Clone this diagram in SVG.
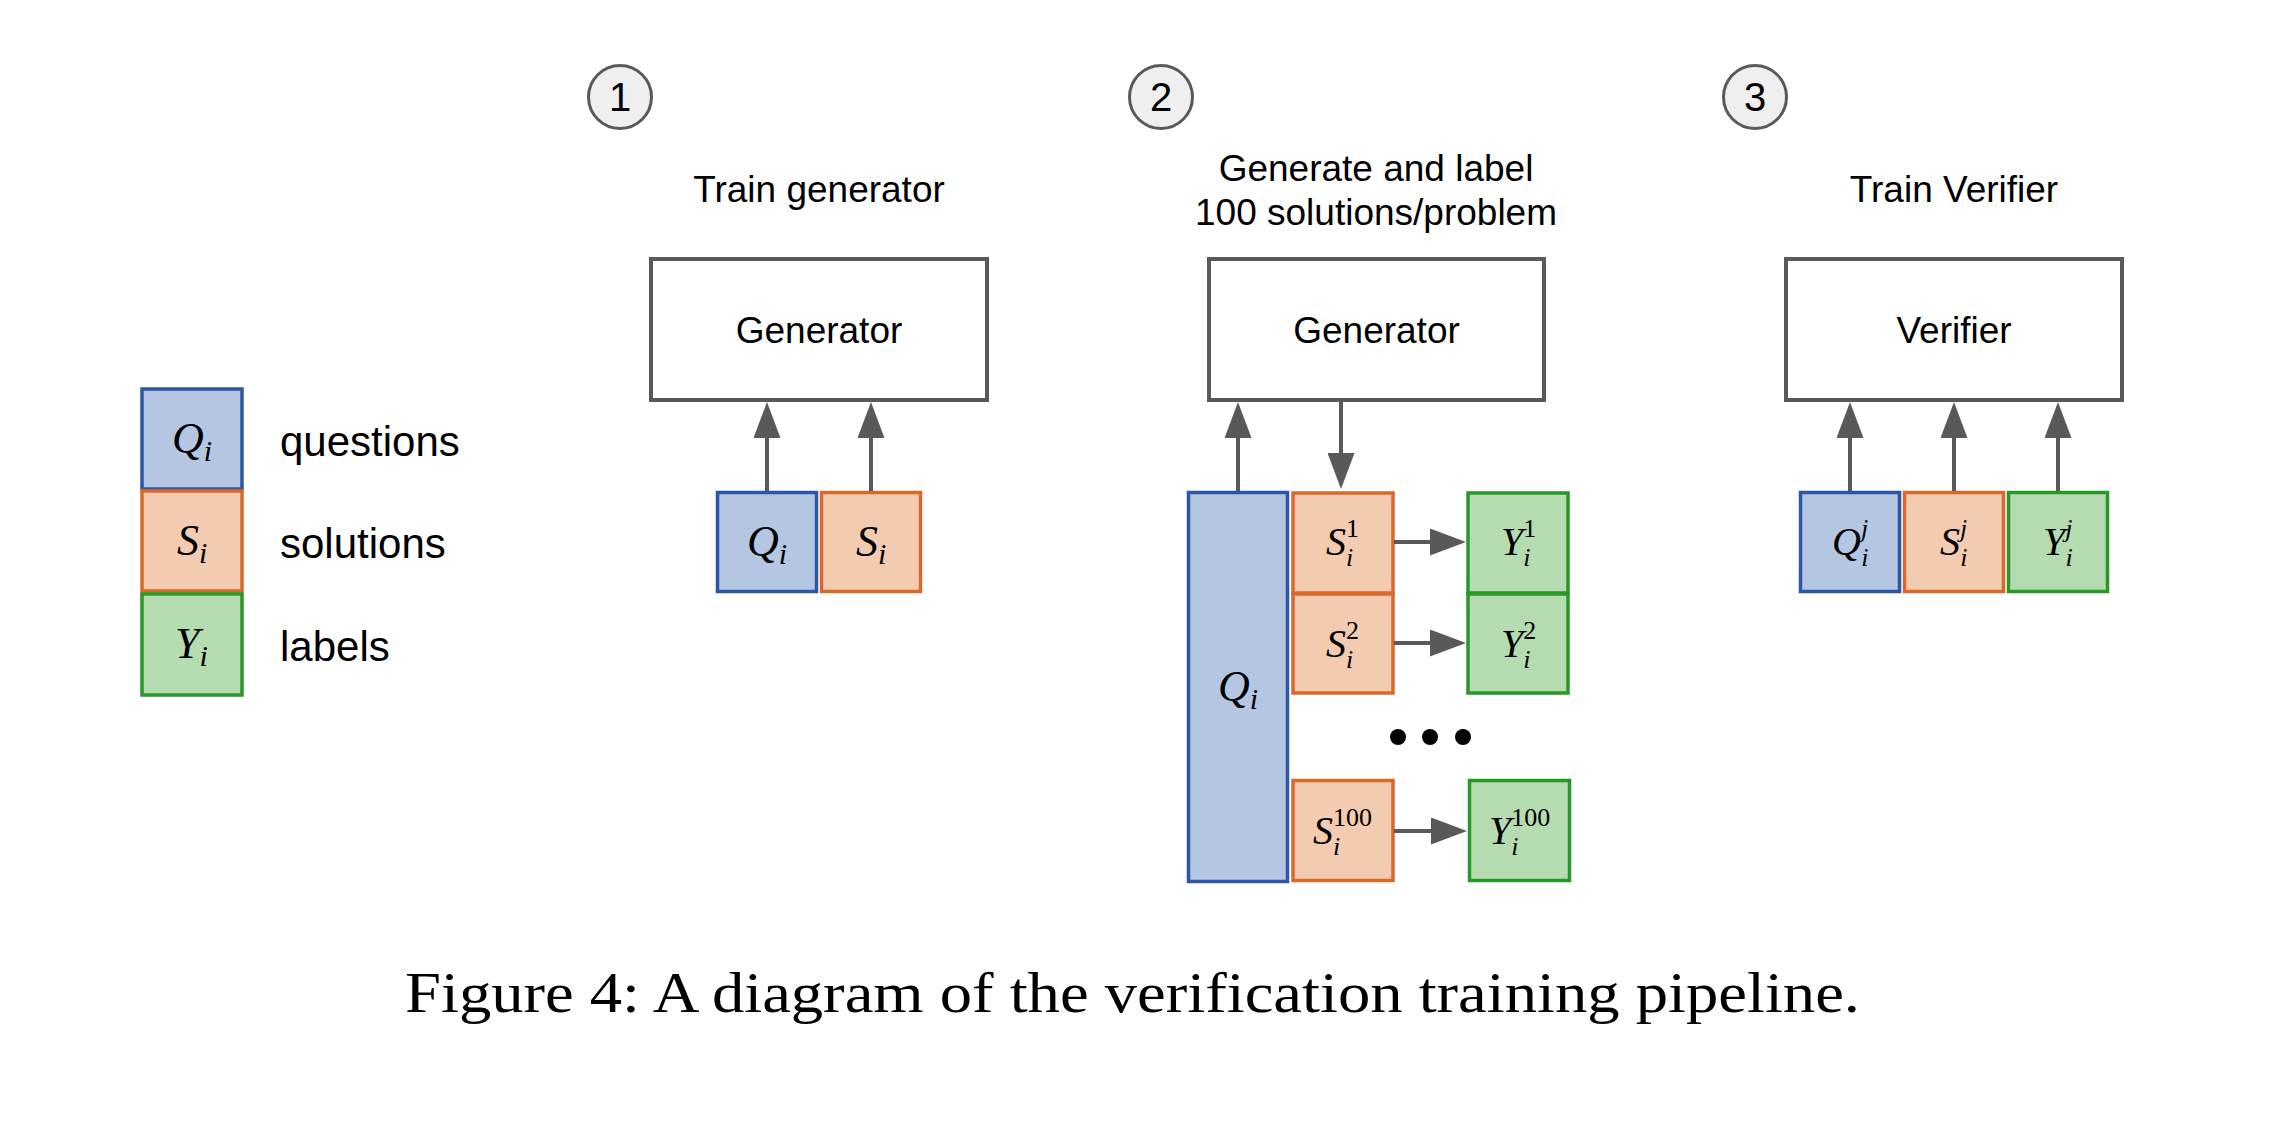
<svg xmlns="http://www.w3.org/2000/svg" width="2278" height="1122" viewBox="0 0 2278 1122">
<defs>
<marker id="ah" viewBox="0 0 36 27" markerWidth="36" markerHeight="27" markerUnits="userSpaceOnUse" refX="0" refY="13.5" orient="auto">
<path d="M0,0 L36,13.5 L0,27 z" fill="#595959"/>
</marker>
<style>
.bg{fill:#ffffff}
.blk{fill:#ffffff;stroke:#595959;stroke-width:4}
.q{fill:#b4c6e1;stroke:#2d56a6;stroke-width:3.5}
.s{fill:#f2cbb1;stroke:#d9692a;stroke-width:3.5}
.y{fill:#b5dcb1;stroke:#2a9729;stroke-width:3.5}
.num{fill:#efefef;stroke:#595959;stroke-width:3}
.t{font-family:"Liberation Sans",Arial,sans-serif;fill:#000}
.title{font-size:37px;text-anchor:middle}
.lg{font-size:42px}
.n{font-size:40px;text-anchor:middle}
.m{font-family:"Liberation Serif","Times New Roman",serif;font-style:italic;fill:#000}
.up{font-style:normal}
.cap{font-family:"Liberation Serif","Times New Roman",serif;font-size:57px;fill:#000}
.conn line{stroke:#595959;stroke-width:4;marker-end:url(#ah)}
.dot{fill:#000}
</style>
</defs>
<rect class="bg" x="0" y="0" width="2278" height="1122"/>

<g id="legend">
<g id="legend-q"><rect class="q" x="142" y="389" width="100" height="100"/><text class="m" x="172" y="453" font-size="44">Q<tspan font-size="30" dy="8">i</tspan></text></g>
<g id="legend-s"><rect class="s" x="142" y="491" width="100" height="100"/><text class="m" x="177" y="555" font-size="44">S<tspan font-size="30" dy="8">i</tspan></text></g>
<g id="legend-y"><rect class="y" x="142" y="594" width="100" height="101"/><text class="m" x="175" y="658" font-size="44">Y<tspan font-size="30" dy="8">i</tspan></text></g>
<text class="t lg" x="280" y="456">questions</text>
<text class="t lg" x="280" y="558">solutions</text>
<text class="t lg" x="280" y="661">labels</text>
</g>

<g id="step1">
<g id="step1-num"><circle class="num" cx="620" cy="97" r="31.5"/><text class="t n" x="620" y="111">1</text></g>
<text class="t title" x="819" y="202">Train generator</text>
<g id="gen1"><rect class="blk" x="651" y="259" width="336" height="141"/><text class="t title" x="819" y="343">Generator</text></g>
<g id="p1-q"><rect class="q" x="717.5" y="492.5" width="99" height="99"/><text class="m" x="747" y="556" font-size="44">Q<tspan font-size="30" dy="8">i</tspan></text></g>
<g id="p1-s"><rect class="s" x="821.5" y="492.5" width="99" height="99"/><text class="m" x="856" y="556" font-size="44">S<tspan font-size="30" dy="8">i</tspan></text></g>
</g>

<g id="step2">
<g id="step2-num"><circle class="num" cx="1161" cy="97" r="31.5"/><text class="t n" x="1161" y="111">2</text></g>
<text class="t title" x="1376" y="181">Generate and label</text>
<text class="t title" x="1376" y="225">100 solutions/problem</text>
<g id="gen2"><rect class="blk" x="1209" y="259" width="335" height="141"/><text class="t title" x="1376.5" y="343">Generator</text></g>
<g id="p2-q"><rect class="q" x="1188.5" y="492.5" width="99" height="389"/><text class="m" x="1218" y="701" font-size="44">Q<tspan font-size="30" dy="8">i</tspan></text></g>
<g id="p2-s1"><rect class="s" x="1293" y="493" width="100" height="100"/><text class="m" x="1326" y="555" font-size="40">S<tspan class="up" font-size="26" dy="-18">1</tspan><tspan font-size="26" dx="-13" dy="29">i</tspan></text></g>
<g id="p2-s2"><rect class="s" x="1293" y="594" width="100" height="99"/><text class="m" x="1326" y="657" font-size="40">S<tspan class="up" font-size="26" dy="-18">2</tspan><tspan font-size="26" dx="-13" dy="29">i</tspan></text></g>
<g id="p2-s100"><rect class="s" x="1293" y="780.5" width="100" height="100"/><text class="m" x="1313" y="844" font-size="40">S<tspan class="up" font-size="26" dy="-18">100</tspan><tspan font-size="26" dx="-39" dy="29">i</tspan></text></g>
<g id="p2-y1"><rect class="y" x="1468" y="493" width="100" height="100"/><text class="m" x="1501" y="555" font-size="40">Y<tspan class="up" font-size="26" dy="-18">1</tspan><tspan font-size="26" dx="-13" dy="29">i</tspan></text></g>
<g id="p2-y2"><rect class="y" x="1468" y="594" width="100" height="99"/><text class="m" x="1501" y="657" font-size="40">Y<tspan class="up" font-size="26" dy="-18">2</tspan><tspan font-size="26" dx="-13" dy="29">i</tspan></text></g>
<g id="p2-y100"><rect class="y" x="1469.5" y="780.5" width="100" height="100"/><text class="m" x="1489" y="844" font-size="40">Y<tspan class="up" font-size="26" dy="-18">100</tspan><tspan font-size="26" dx="-39" dy="29">i</tspan></text></g>
<g id="dots"><circle class="dot" cx="1398" cy="737" r="8"/><circle class="dot" cx="1430" cy="737" r="8"/><circle class="dot" cx="1463" cy="737" r="8"/></g>
</g>

<g id="step3">
<g id="step3-num"><circle class="num" cx="1755" cy="97" r="31.5"/><text class="t n" x="1755" y="111">3</text></g>
<text class="t title" x="1954" y="202">Train Verifier</text>
<g id="verifier"><rect class="blk" x="1786" y="259" width="336" height="141"/><text class="t title" x="1954" y="343">Verifier</text></g>
<g id="p3-q"><rect class="q" x="1800.5" y="492.5" width="99" height="99"/><text class="m" x="1832" y="555" font-size="40">Q<tspan font-size="26" dy="-18">j</tspan><tspan font-size="26" dx="-7" dy="29">i</tspan></text></g>
<g id="p3-s"><rect class="s" x="1904.5" y="492.5" width="99" height="99"/><text class="m" x="1940" y="555" font-size="40">S<tspan font-size="26" dy="-18">j</tspan><tspan font-size="26" dx="-7" dy="29">i</tspan></text></g>
<g id="p3-y"><rect class="y" x="2008.5" y="492.5" width="99" height="99"/><text class="m" x="2043" y="555" font-size="40">Y<tspan font-size="26" dy="-18">j</tspan><tspan font-size="26" dx="-7" dy="29">i</tspan></text></g>
</g>

<g id="connectors" class="conn">
<line x1="767" y1="491" x2="767" y2="438"/>
<line x1="871" y1="491" x2="871" y2="438"/>
<line x1="1238" y1="491" x2="1238" y2="438"/>
<line x1="1341" y1="401" x2="1341" y2="453"/>
<line x1="1394" y1="542" x2="1430" y2="542"/>
<line x1="1394" y1="643" x2="1430" y2="643"/>
<line x1="1394" y1="831" x2="1431" y2="831"/>
<line x1="1850" y1="491" x2="1850" y2="438"/>
<line x1="1954" y1="491" x2="1954" y2="438"/>
<line x1="2058" y1="491" x2="2058" y2="438"/>
</g>

<text class="cap" x="405" y="1012" textLength="1455" lengthAdjust="spacingAndGlyphs">Figure 4: A diagram of the verification training pipeline.</text>
</svg>
